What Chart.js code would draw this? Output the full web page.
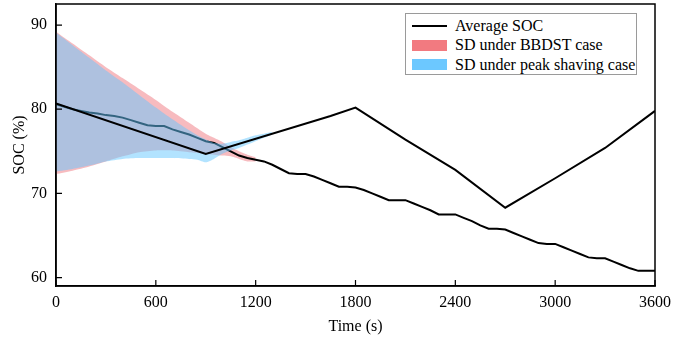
<!DOCTYPE html>
<html>
<head>
<meta charset="utf-8">
<script src="https://cdn.jsdelivr.net/npm/chart.js@4.4.0/dist/chart.umd.min.js"></script>
<style>
html, body { margin: 0; padding: 0; background: #fff; }
#wrap { position: relative; width: 682px; height: 339px; }
#legend {
    position: absolute; left: 405px; top: 13px; width: 232px; height: 62px;
    box-sizing: border-box; border: 1px solid #9a9a9a; background: #fff;
    font-family: "Liberation Serif", "Times New Roman", Times, "Nimbus Roman", "Noto Serif", "DejaVu Serif", FreeSerif, serif;
    font-size: 16px; color: #000;
    padding-top: 2px;
}
.row { height: 19.5px; display: flex; align-items: center; white-space: nowrap; }
.sw { width: 35px; margin-left: 6px; margin-right: 8px; }
</style>
</head>
<body>
<div id="wrap">
    <canvas id="grafico" width="682" height="339"></canvas>
    <div id="legend"></div>
</div>
<script>
const xTicks = [0, 600, 1200, 1800, 2400, 3000, 3600];
const yTicks = [60, 70, 80, 90];

// average SOC, peak shaving case
const tPeak = [0, 900, 1650, 1800, 2100, 2400, 2700, 3000, 3300, 3600];
const socPeak = [80.7, 74.7, 79.2, 80.2, 76.4, 72.8, 68.3, 71.8, 75.4, 79.8];

// average SOC, BBDST case
const tBBDST = [0, 50, 100, 150, 200, 250, 300, 350, 400, 450, 500, 550, 600, 650, 700, 750, 800, 850, 900, 950,
    1000, 1050, 1100, 1150, 1200, 1250, 1300, 1350, 1400, 1450, 1500, 1550, 1600, 1650, 1700, 1750, 1800,
    1850, 1900, 1950, 2000, 2050, 2100, 2150, 2200, 2250, 2300, 2350, 2400, 2450, 2500, 2550, 2600, 2650, 2700,
    2750, 2800, 2850, 2900, 2950, 3000, 3050, 3100, 3150, 3200, 3250, 3300, 3350, 3400, 3450, 3500, 3550, 3600];
const socBBDST = [80.6, 80.3, 80.0, 79.8, 79.6, 79.5, 79.3, 79.2, 79.0, 78.7, 78.4, 78.1, 78.0, 78.0, 77.6, 77.3, 77.0, 76.6, 76.2, 76.0,
    75.5, 75.0, 74.5, 74.2, 74.0, 73.8, 73.4, 72.9, 72.4, 72.3, 72.3, 72.0, 71.6, 71.2, 70.8, 70.8, 70.7,
    70.4, 70.0, 69.6, 69.2, 69.2, 69.2, 68.8, 68.4, 68.0, 67.5, 67.5, 67.5, 67.1, 66.7, 66.2, 65.8, 65.8, 65.7,
    65.3, 64.9, 64.5, 64.1, 64.0, 64.0, 63.6, 63.2, 62.8, 62.4, 62.3, 62.3, 61.9, 61.5, 61.1, 60.8, 60.8, 60.8];

// SD band, BBDST case
const tBandRed = [0, 100, 200, 300, 400, 500, 600, 700, 800, 900, 950, 1000, 1050, 1100, 1150, 1200];
const redUpper = [89.2, 87.8, 86.4, 85.0, 83.7, 82.4, 81.1, 79.7, 78.4, 77.1, 76.6, 76.1, 75.5, 75.0, 74.6, 74.3];
const redLower = [72.3, 72.7, 73.2, 73.8, 74.4, 74.9, 75.1, 75.1, 74.9, 74.7, 74.6, 74.5, 74.4, 74.1, 73.8, 73.8];

// SD band, peak shaving case
const tBandBlue = [0, 100, 200, 300, 400, 500, 600, 700, 800, 850, 900, 950, 1000, 1050, 1100, 1150, 1200, 1250, 1300];
const blueUpper = [89.1, 87.6, 86.1, 84.6, 83.2, 81.7, 80.2, 78.8, 77.5, 76.9, 76.4, 76.0, 75.9, 76.1, 76.3, 76.6, 76.9, 77.1, 77.3];
const blueLower = [72.6, 72.9, 73.3, 73.8, 74.1, 74.2, 74.2, 74.2, 74.1, 74.0, 73.7, 74.1, 74.7, 75.1, 75.4, 75.8, 76.2, 76.6, 77.0];

const legendLabels = ['Average SOC', 'SD under BBDST case', 'SD under peak shaving case'];

const CORES = {
    linha: '#000',
    red: '#f27a80',
    redFill: 'rgba(240, 120, 128, 0.5)',
    blue: '#6cc8ff',
    blueFill: 'rgba(102, 200, 255, 0.5)'
};
const FONTE = '"Liberation Serif", "Times New Roman", Times, "Nimbus Roman", "Noto Serif", "DejaVu Serif", FreeSerif, serif';

function pts(xs, ys) { return xs.map((x, i) => ({ x: x, y: ys[i] })); }

function bandSet(data, fill, color, order) {
    return { data: data, fill: fill, backgroundColor: color, borderWidth: 0, borderColor: 'rgba(0,0,0,0)', pointRadius: 0, order: order, tension: 0.2 };
}

const frame = {
    id: 'frame',
    afterDraw(chart) {
        const { ctx, chartArea: a, scales } = chart;
        ctx.save();
        ctx.strokeStyle = '#000';
        ctx.lineWidth = 1.5;
        ctx.strokeRect(a.left, a.top, a.right - a.left, a.bottom - a.top);
        ctx.lineWidth = 1.2;
        ctx.beginPath();
        scales.x.ticks.forEach(t => {
            const px = scales.x.getPixelForValue(t.value);
            ctx.moveTo(px, a.bottom);
            ctx.lineTo(px, a.bottom - 6);
        });
        scales.y.ticks.forEach(t => {
            const py = scales.y.getPixelForValue(t.value);
            ctx.moveTo(a.left, py);
            ctx.lineTo(a.left + 6, py);
        });
        ctx.stroke();
        ctx.restore();
    }
};

new Chart(document.getElementById('grafico'), {
    type: 'line',
    data: {
        datasets: [
            { label: legendLabels[0], data: pts(tPeak, socPeak), borderColor: CORES.linha, borderWidth: 2, pointRadius: 0, fill: false, order: 0 },
            bandSet(pts(tBandBlue, blueLower), false, CORES.blueFill, 1),
            bandSet(pts(tBandBlue, blueUpper), '-1', CORES.blueFill, 1),
            { label: 'BBDST', data: pts(tBBDST, socBBDST), borderColor: CORES.linha, borderWidth: 2, pointRadius: 0, fill: false, order: 2 },
            bandSet(pts(tBandRed, redLower), false, CORES.redFill, 3),
            bandSet(pts(tBandRed, redUpper), '-1', CORES.redFill, 3)
        ]
    },
    options: {
        responsive: false,
        animation: false,
        layout: { padding: { top: 4, right: 27, left: 0, bottom: 0 } },
        plugins: { legend: { display: false }, tooltip: { enabled: false } },
        scales: {
            x: {
                type: 'linear', min: 0, max: 3600,
                afterBuildTicks: s => { s.ticks = xTicks.map(v => ({ value: v })); },
                afterFit: s => { s.height = 53; s.paddingLeft = 0; s.paddingRight = 0; },
                grid: { display: false, drawTicks: false },
                border: { display: true, color: '#000', width: 1.5 },
                ticks: { color: '#000', padding: 7, maxRotation: 0, font: { family: FONTE, size: 16 }, callback: v => String(v) },
                title: { display: true, text: 'Time (s)', color: '#000', font: { family: FONTE, size: 16 }, padding: { top: 0, bottom: 3 } }
            },
            y: {
                min: 59, max: 92.5,
                afterBuildTicks: s => { s.ticks = yTicks.map(v => ({ value: v })); },
                afterFit: s => { s.width = 56; s.paddingTop = 0; s.paddingBottom = 0; },
                grid: { display: false, drawTicks: false },
                border: { display: true, color: '#000', width: 1.5 },
                ticks: { color: '#000', padding: 9, font: { family: FONTE, size: 16 }, callback: v => String(v) },
                title: { display: true, text: 'SOC (%)', color: '#000', font: { family: FONTE, size: 16 }, padding: { top: 10, bottom: 0 } }
            }
        }
    },
    plugins: [frame]
});

// legenda dentro da area do grafico
const swatches = [
    '<div class="sw" style="height:2.5px;background:' + CORES.linha + '"></div>',
    '<div class="sw" style="height:11px;background:' + CORES.red + '"></div>',
    '<div class="sw" style="height:11px;background:' + CORES.blue + '"></div>'
];
document.getElementById('legend').innerHTML = legendLabels
    .map((txt, i) => '<div class="row">' + swatches[i] + '<span>' + txt + '</span></div>')
    .join('');
</script>
</body>
</html>
